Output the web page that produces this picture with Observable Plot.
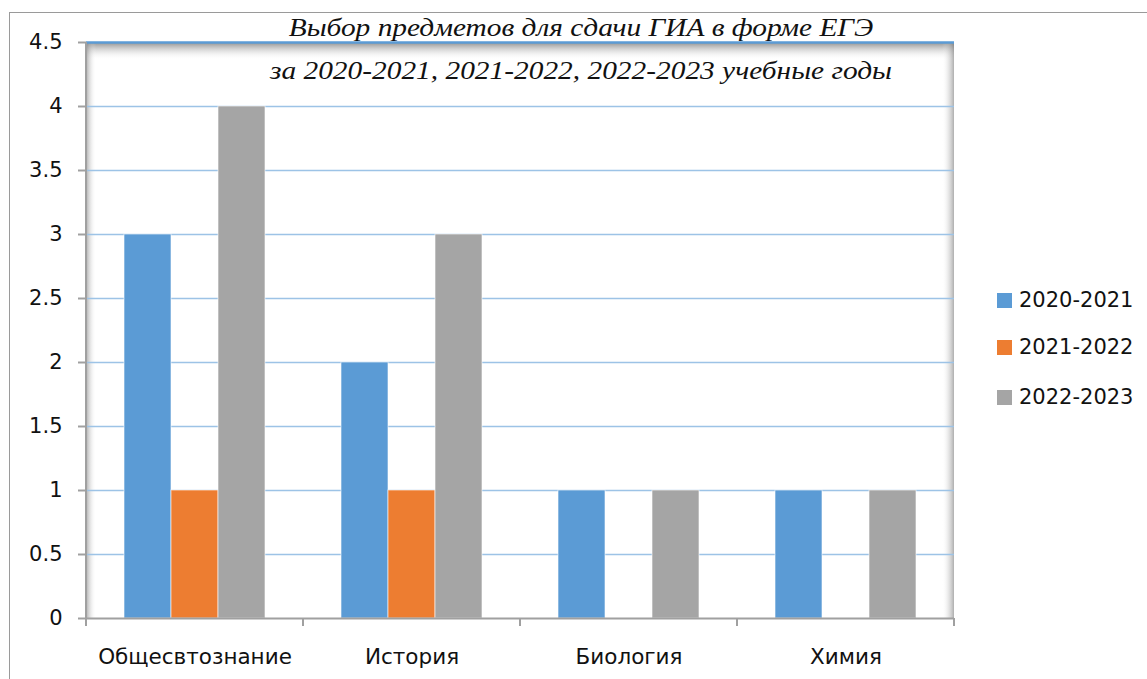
<!DOCTYPE html>
<html><head><meta charset="utf-8">
<script src="https://cdn.jsdelivr.net/npm/d3@7"></script>
<script src="https://cdn.jsdelivr.net/npm/@observablehq/plot@0.6"></script>
<style>
body{margin:0;background:#fff;}
#wrap{position:relative;width:1147px;height:679px;overflow:hidden;background:#fff;}
#border{position:absolute;left:9px;top:12px;width:1200px;height:700px;border-left:1.5px solid #9a9a9a;border-top:1.5px solid #9a9a9a;}
#chart{position:absolute;left:0;top:0;}
.title{position:absolute;left:181px;width:800px;text-align:center;font-family:"Liberation Serif","Times New Roman",serif;font-style:italic;font-size:26px;line-height:26px;white-space:nowrap;color:#111;transform:scaleX(1.13);transform-origin:center;}
.legend{position:absolute;left:997px;font-family:"DejaVu Sans",sans-serif;font-size:21px;line-height:21px;color:#111;display:flex;align-items:center;}
.legend span.sw{display:inline-block;width:15px;height:15px;margin-right:7px;}
</style></head>
<body>
<div id="wrap">
  <div id="border"></div>
  <div id="chart"></div>
  <div class="title" id="t1" style="top:15px"></div>
  <div class="title" id="t2" style="top:58px"></div>
  <div id="legend"></div>
</div>
<script>
const titleLines = ["Выбор предметов для сдачи ГИА в форме ЕГЭ", "за 2020-2021, 2021-2022, 2022-2023 учебные годы"];
const categories = ["Общесвтознание", "История", "Биология", "Химия"];
const seriesNames = ["2020-2021", "2021-2022", "2022-2023"];
const values2020 = [3, 2, 1, 1];
const values2021 = [1, 1, 0, 0];
const values2022 = [4, 3, 1, 1];
const seriesColors = ["#5b9bd5", "#ed7d31", "#a5a5a5"];
const yTicks = [0, 0.5, 1, 1.5, 2, 2.5, 3, 3.5, 4, 4.5];

const seriesValues = [values2020, values2021, values2022];
const data = categories.flatMap((c, i) => seriesNames.map((s, j) => ({cat: c, series: s, value: seriesValues[j][i]})));

const W = 1147, H = 679, mL = 85, mR = 192, mT = 42, mB = 61;

const plot = Plot.plot({
  width: W, height: H, marginLeft: mL, marginRight: mR, marginTop: mT, marginBottom: mB,
  style: {fontFamily: '"DejaVu Sans", sans-serif', fontSize: "20px", background: "transparent", color: "#111", overflow: "visible"},
  fx: {domain: categories, padding: 0, label: null},
  x: {domain: seriesNames, paddingInner: 0, paddingOuter: 0.78, axis: null},
  y: {domain: [0, 4.5], label: null},
  color: {domain: seriesNames, range: seriesColors},
  marks: [
    Plot.ruleY(yTicks.filter(d => d > 0 && d < 4.5), {y: d => d, stroke: "#9dc3e6", strokeWidth: 1.5}),
    Plot.barY(data, {fx: "cat", x: "series", y: "value", fill: "series", stroke: "#ffffff", strokeOpacity: 0.6, strokeWidth: 1}),
    Plot.ruleY([4.5], {stroke: "#5b9bd5", strokeWidth: 2.5}),
    Plot.axisY({ticks: yTicks, tickSize: 8, tickPadding: 16, tickFormat: d => String(d), stroke: "#a0a0a0", strokeWidth: 2, strokeOpacity: 1, label: null, fontSize: 21}),
    Plot.axisFx({anchor: "bottom", tickSize: 0, tickPadding: 30, label: null, fontSize: 21.5}),
    Plot.ruleY([0], {stroke: "#a0a0a0", strokeWidth: 2})
  ]
});
document.getElementById("chart").appendChild(plot);

// decorations: inner shadow of plot area, left axis line, category boundary ticks
const svg = d3.select(plot);
const ys = plot.scale("y");
const fxs = plot.scale("fx");
const yTop = ys.apply(4.5), yBot = ys.apply(0);
const xLeft = fxs.apply(categories[0]);
const xRight = fxs.apply(categories[categories.length - 1]) + fxs.bandwidth;
const defs = svg.insert("defs", ":first-child");
const mk = (id, x1, y1, x2, y2) => {
  const g = defs.append("linearGradient").attr("id", id).attr("x1", x1).attr("y1", y1).attr("x2", x2).attr("y2", y2);
  g.append("stop").attr("offset", "0%").attr("stop-color", "#777").attr("stop-opacity", 0.85);
  g.append("stop").attr("offset", "100%").attr("stop-color", "#fff").attr("stop-opacity", 0);
};
mk("gTop", 0, 0, 0, 1); mk("gLeft", 0, 0, 1, 0); mk("gRight", 1, 0, 0, 0);
const sh = svg.insert("g", "defs + *");
sh.append("rect").attr("x", xLeft).attr("y", yTop).attr("width", xRight - xLeft).attr("height", 18).attr("fill", "url(#gTop)");
sh.append("rect").attr("x", xLeft).attr("y", yTop).attr("width", 10).attr("height", yBot - yTop).attr("fill", "url(#gLeft)").attr("opacity", 0.7);
sh.append("rect").attr("x", xRight - 12).attr("y", yTop).attr("width", 12).attr("height", yBot - yTop).attr("fill", "url(#gRight)").attr("opacity", 0.7);
const ax = svg.append("g").attr("stroke", "#a0a0a0").attr("stroke-width", 2);
ax.append("line").attr("x1", xLeft).attr("x2", xLeft).attr("y1", yTop).attr("y2", yBot + 8);
categories.forEach(c => {
  const x0 = fxs.apply(c) + fxs.bandwidth;
  ax.append("line").attr("x1", x0).attr("x2", x0).attr("y1", yBot).attr("y2", yBot + 8);
});

document.getElementById("t1").textContent = titleLines[0];
document.getElementById("t2").textContent = titleLines[1];

const legendTops = [300, 347, 397];
const lg = document.getElementById("legend");
seriesNames.forEach((s, i) => {
  const d = document.createElement("div");
  d.className = "legend";
  d.style.top = (legendTops[i] - 10) + "px";
  d.innerHTML = `<span class="sw" style="background:${seriesColors[i]}"></span><span>${s}</span>`;
  lg.appendChild(d);
});
</script>
</body></html>
